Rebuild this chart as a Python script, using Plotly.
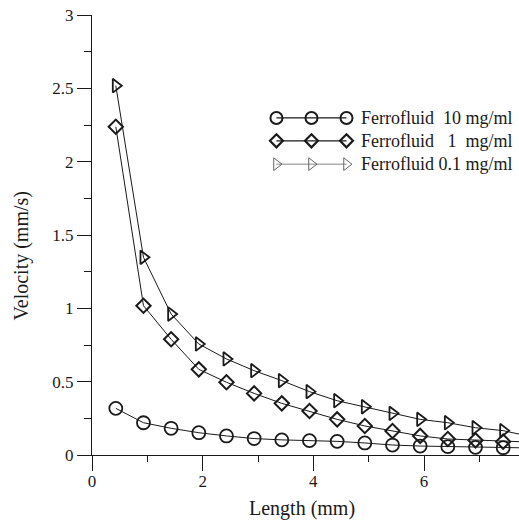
import plotly.graph_objects as go

# Channel length (mm) at each measurement station
lengths = [0.43, 0.93, 1.43, 1.93, 2.43, 2.93, 3.43, 3.93, 4.43, 4.93,
           5.43, 5.93, 6.43, 6.93, 7.43, 7.93]

# Particle velocity (mm/s) for each ferrofluid concentration
vel_10mg = [0.318, 0.22, 0.182, 0.152, 0.13, 0.112, 0.103, 0.098, 0.093,
            0.082, 0.068, 0.061, 0.057, 0.052, 0.05, 0.048]
vel_1mg = [2.238, 1.018, 0.789, 0.584, 0.496, 0.42, 0.352, 0.30, 0.243,
           0.198, 0.164, 0.13, 0.109, 0.10, 0.091, 0.088]
vel_01mg = [2.518, 1.348, 0.961, 0.757, 0.655, 0.575, 0.507, 0.432, 0.37,
            0.329, 0.284, 0.243, 0.22, 0.186, 0.166, 0.125]

series_names = ["Ferrofluid\u00a0\u00a010 mg/ml",
                "Ferrofluid\u00a0\u00a0\u00a01\u00a0\u00a0mg/ml",
                "Ferrofluid 0.1 mg/ml"]

FONT = "Liberation Serif, Times New Roman, serif"
INK = "#1a1a1a"

fig = go.Figure()

styles = [
    (vel_10mg, "circle-open", 13, 1.8),
    (vel_1mg, "diamond-open", 11, 2.0),
    (vel_01mg, "triangle-right-open", 12, 1.8),
]
for vals, sym, size, mlw in styles:
    fig.add_trace(go.Scatter(
        x=lengths, y=vals, mode="lines+markers",
        line=dict(color=INK, width=1),
        marker=dict(symbol=sym, size=size, color=INK, line=dict(width=mlw, color=INK)),
        showlegend=False, hoverinfo="skip",
    ))

# Hand-built key: three markers on a line per series, drawn on an overlay axis (0..1)
key_x = [0.432, 0.514, 0.596]
key_rows = [0.766, 0.714, 0.661]
key_styles = [
    ("circle-open", 12, 2.0, INK, 1.2),
    ("diamond-open", 10, 2.2, INK, 1.2),
    ("triangle-right-open", 11, 1.0, "#666666", 0.8),
]
for yrow, (sym, size, mlw, col, lw) in zip(key_rows, key_styles):
    fig.add_trace(go.Scatter(
        x=key_x, y=[yrow] * 3, xaxis="x2", yaxis="y2", mode="lines+markers",
        line=dict(color=col, width=lw),
        marker=dict(symbol=sym, size=size, color=col, line=dict(width=mlw, color=col)),
        showlegend=False, hoverinfo="skip", cliponaxis=False,
    ))
for yrow, name in zip(key_rows, series_names):
    fig.add_annotation(x=0.625, y=yrow, xref="paper", yref="paper", text=name,
                       showarrow=False, xanchor="left", yanchor="middle",
                       font=dict(family=FONT, size=18, color=INK))

# Axis titles
fig.add_annotation(x=0.4907, y=-0.1205, xref="paper", yref="paper", text="Length (mm)",
                   showarrow=False, xanchor="center", yanchor="middle",
                   font=dict(family=FONT, size=20, color=INK))
fig.add_annotation(x=-0.1655, y=0.452, xref="paper", yref="paper", text="Velocity (mm/s)",
                   showarrow=False, xanchor="center", yanchor="middle", textangle=-90,
                   font=dict(family=FONT, size=20, color=INK))

axis_common = dict(showgrid=False, zeroline=False, showline=True, linecolor=INK,
                   linewidth=1.3, ticks="outside", tickcolor=INK, tickwidth=1.3,
                   tickfont=dict(family=FONT, size=17, color=INK))

fig.update_layout(
    width=519, height=522,
    margin=dict(l=92, r=0, t=15, b=67),
    paper_bgcolor="white", plot_bgcolor="white",
    font=dict(family=FONT, color=INK),
    xaxis=dict(range=[0, 7.716], tick0=0, dtick=2, ticklen=15, ticklabelstandoff=-5,
               minor=dict(dtick=1, tick0=0, ticklen=6, ticks="outside",
                          tickcolor=INK, tickwidth=1.3),
               **axis_common),
    yaxis=dict(range=[0, 3], tick0=0, dtick=0.5, ticklen=14,
               minor=dict(dtick=0.25, tick0=0, ticklen=7, ticks="outside",
                          tickcolor=INK, tickwidth=1.3),
               **axis_common),
    xaxis2=dict(overlaying="x", range=[0, 1], visible=False),
    yaxis2=dict(overlaying="y", range=[0, 1], visible=False),
)

fig.write_html("out.html")
